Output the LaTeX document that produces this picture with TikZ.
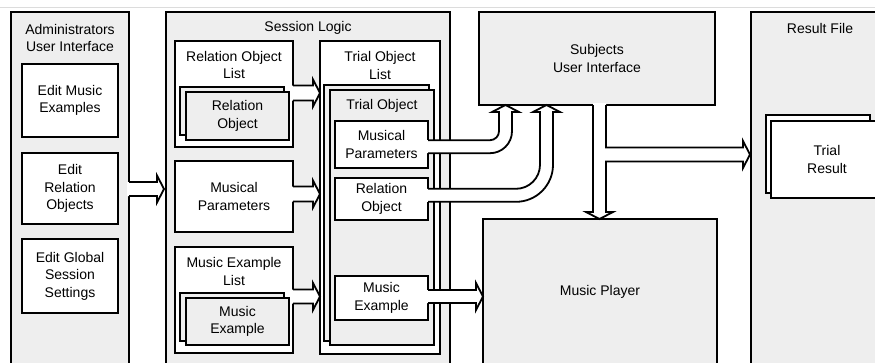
\documentclass[tikz,border=0pt]{standalone}
\usepackage{fontspec}
\setmainfont{Liberation Sans}
\usetikzlibrary{calc}
\definecolor{panelgray}{HTML}{EEEEEE}
\definecolor{framegray}{HTML}{DCDCDC}
% rectangle node from corners: #1 style, #2 name, #3 x1, #4 y1, #5 x2, #6 y2, #7 text
\newcommand\rnode[7]{\node[#1, minimum width={(#5)-(#3)}, minimum height={(#6)-(#4)}, inner sep=0pt, outer sep=0pt] (#2) at ({((#3)+(#5))/2},{((#4)+(#6))/2}) {#7};}
% horizontal block arrow: #1 start, #2 tip, #3 shaft half width, #4 head half width, #5 head length
\newcommand\hblock[5]{%
  \fill[white] ($(#1)+(-2,-#3)$) -- ($(#2)+(-#5,-#3)$) -- ($(#2)+(-#5,-#4)$) -- (#2) -- ($(#2)+(-#5,#4)$) -- ($(#2)+(-#5,#3)$) -- ($(#1)+(-2,#3)$) -- cycle;
  \draw[arrowline] ($(#1)+(0,-#3)$) -- ($(#2)+(-#5,-#3)$) -- ($(#2)+(-#5,-#4)$) -- (#2) -- ($(#2)+(-#5,#4)$) -- ($(#2)+(-#5,#3)$) -- ($(#1)+(0,#3)$);}
% curved block arrow, right then up: #1 start, #2 tip, #3 inner radius
\newcommand\curvearr[3]{%
  \coordinate (tmpc) at (#2|-#1);
  \pgfmathsetmacro\rout{#3+13}
  \fill[white] ($(#1)+(-2,-6.5)$) -- ($(tmpc)+(-6.5-#3,-6.5)$) .. controls +(0.5523*#3,0) and +(0,0.5523*#3) .. ($(tmpc)+(-6.5,-6.5-#3)$) -- ($(#2)+(-6.5,7)$) -- ($(#2)+(-13.5,7)$) -- (#2) -- ($(#2)+(13.5,7)$) -- ($(#2)+(6.5,7)$) -- ($(tmpc)+(6.5,-6.5-#3)$) .. controls +(0,0.5523*\rout) and +(0.5523*\rout,0) .. ($(tmpc)+(-6.5-#3,6.5)$) -- ($(#1)+(-2,6.5)$) -- cycle;
  \draw[arrowline] ($(#1)+(0,-6.5)$) -- ($(tmpc)+(-6.5-#3,-6.5)$) .. controls +(0.5523*#3,0) and +(0,0.5523*#3) .. ($(tmpc)+(-6.5,-6.5-#3)$) -- ($(#2)+(-6.5,7)$) -- ($(#2)+(-13.5,7)$) -- (#2) -- ($(#2)+(13.5,7)$) -- ($(#2)+(6.5,7)$) -- ($(tmpc)+(6.5,-6.5-#3)$) .. controls +(0,0.5523*\rout) and +(0.5523*\rout,0) .. ($(tmpc)+(-6.5-#3,6.5)$) -- ($(#1)+(0,6.5)$);}
\begin{document}
\begin{tikzpicture}[x=1pt,y=-1pt,
  every node/.style={font=\fontsize{14}{17.5}\selectfont, align=center},
  panel/.style={draw, line width=1.4pt, fill=panelgray},
  wbox/.style={draw, line width=1.8pt, fill=white},
  gbox/.style={draw, line width=1.8pt, fill=panelgray},
  title/.style={inner sep=0pt},
  arrowline/.style={line width=1.8pt, line join=miter}]
\useasboundingbox (0,0) rectangle (875,362);
\clip (0,0) rectangle (875,362);
\fill[white] (0,0) rectangle (875,362);
\draw[framegray, line width=1pt] (0,7) -- (875,7);

% Administrators panel
\rnode{panel}{admin}{11}{12}{129}{380}{}
\node[title] (admintitle) at ($(admin.north)+(0,26)$) {Administrators\\User Interface};
\rnode{wbox}{editme}{22}{64}{118}{137}{Edit Music\\Examples}
\rnode{wbox}{editro}{22}{153}{118}{224}{Edit\\Relation\\Objects}
\rnode{wbox}{editgs}{22}{239}{118}{313}{Edit Global\\Session\\Settings}

% Session Logic panel
\rnode{panel}{session}{166}{12}{450}{380}{}
\node[title] (sessiontitle) at ($(session.north)+(0,16)$) {Session Logic};
\rnode{wbox}{rol}{175}{41}{293}{147}{}
\node[title] (roltitle) at ($(rol.north)+(0,24)$) {Relation Object\\List};
\rnode{gbox}{rob}{180}{87}{284}{135}{}
\rnode{gbox}{rof}{186}{92}{289}{140}{Relation\\Object}
\rnode{wbox}{mpl}{175}{161}{293}{232}{Musical\\Parameters}
\rnode{wbox}{mel}{175}{247}{293}{353}{}
\node[title] (meltitle) at ($(mel.north)+(0,24.5)$) {Music Example\\List};
\rnode{gbox}{meb}{180}{293}{284}{341}{}
\rnode{gbox}{mef}{186}{298}{289}{345}{Music\\Example}

% Trial Object List
\rnode{wbox}{tol}{320}{41}{440}{354}{}
\node[title] (toltitle) at ($(tol.north)+(0,24.5)$) {Trial Object\\List};
\rnode{gbox}{tob}{324}{85}{429}{341}{}
\rnode{gbox}{tof}{330}{90}{434}{345}{}
\node[title] (toftitle) at ($(tof.north)+(0,16)$) {Trial Object};
\rnode{wbox}{imp}{335}{121}{428}{168}{Musical\\Parameters}
\rnode{wbox}{iro}{335}{178}{428}{220}{Relation\\Object}
\rnode{wbox}{ime}{335}{276}{428}{320}{Music\\Example}

% Subjects UI and Music Player
\rnode{panel}{subj}{479}{12}{715}{105}{Subjects\\User Interface}
\rnode{panel}{player}{483}{219}{717}{365}{Music Player}

% Result File
\rnode{panel}{result}{751}{12}{889}{380}{}
\node[title] (resulttitle) at ($(result.north)+(0,16)$) {Result File};
\rnode{wbox}{trb}{766}{115}{870}{193}{}
\rnode{wbox}{trf}{771}{121}{883}{198}{Trial\\Result}

% Arrows
\coordinate (a0s) at (admin.east |- 0,189);
\coordinate (a0t) at ($(session.west |- 0,189)+(-2,0)$);
\hblock{a0s}{a0t}{7}{13.5}{7}

\coordinate (a1s) at (rol.east |- 0,93);
\coordinate (a1t) at (tol.west |- 0,93);
\hblock{a1s}{a1t}{7.5}{13.5}{7}

\coordinate (a2s) at (mpl.east |- 0,194);
\coordinate (a2t) at (tol.west |- 0,194);
\hblock{a2s}{a2t}{7.5}{13.5}{7}

\coordinate (a3s) at (mel.east |- 0,296.5);
\coordinate (a3t) at (tol.west |- 0,296.5);
\hblock{a3s}{a3t}{7}{13.5}{7}

\coordinate (a7s) at (ime.east |- 0,296.5);
\coordinate (a7t) at (player.west |- 0,296.5);
\hblock{a7s}{a7t}{6.5}{13.5}{7}

\coordinate (a4s) at (imp.east |- 0,146.7);
\coordinate (a4t) at (subj.south -| 505.5,0);
\curvearr{a4s}{a4t}{9}

\coordinate (a5s) at (iro.east |- 0,195.3);
\coordinate (a5t) at (subj.south -| 546.5,0);
\curvearr{a5s}{a5t}{24}

% Subjects -> Music Player, with branch to Result File
\coordinate (a6s) at (subj.south -| 599.5,0);
\coordinate (a6t) at (player.north -| 599.5,0);
\coordinate (a6r) at ($(result.west |- 0,154.5)+(-1,0)$);
\fill[white] ($(a6s)+(-6.5,-2)$) -- ($(a6t)+(-6.5,-7)$) -- ($(a6t)+(-13.5,-7)$) -- (a6t) -- ($(a6t)+(13.5,-7)$) -- ($(a6t)+(6.5,-7)$) -- ($(a6s)+(6.5,56.5)$) -- ($(a6r)+(-7,7)$) -- ($(a6r)+(-7,13.5)$) -- (a6r) -- ($(a6r)+(-7,-13.5)$) -- ($(a6r)+(-7,-7)$) -- ($(a6s)+(6.5,42.5)$) -- ($(a6s)+(6.5,-2)$) -- cycle;
\draw[arrowline] ($(a6s)+(-6.5,0)$) -- ($(a6t)+(-6.5,-7)$) -- ($(a6t)+(-13.5,-7)$) -- (a6t) -- ($(a6t)+(13.5,-7)$) -- ($(a6t)+(6.5,-7)$) -- ($(a6s)+(6.5,56.5)$) -- ($(a6r)+(-7,7)$) -- ($(a6r)+(-7,13.5)$) -- (a6r) -- ($(a6r)+(-7,-13.5)$) -- ($(a6r)+(-7,-7)$) -- ($(a6s)+(6.5,42.5)$) -- ($(a6s)+(6.5,0)$);
\end{tikzpicture}
\end{document}
